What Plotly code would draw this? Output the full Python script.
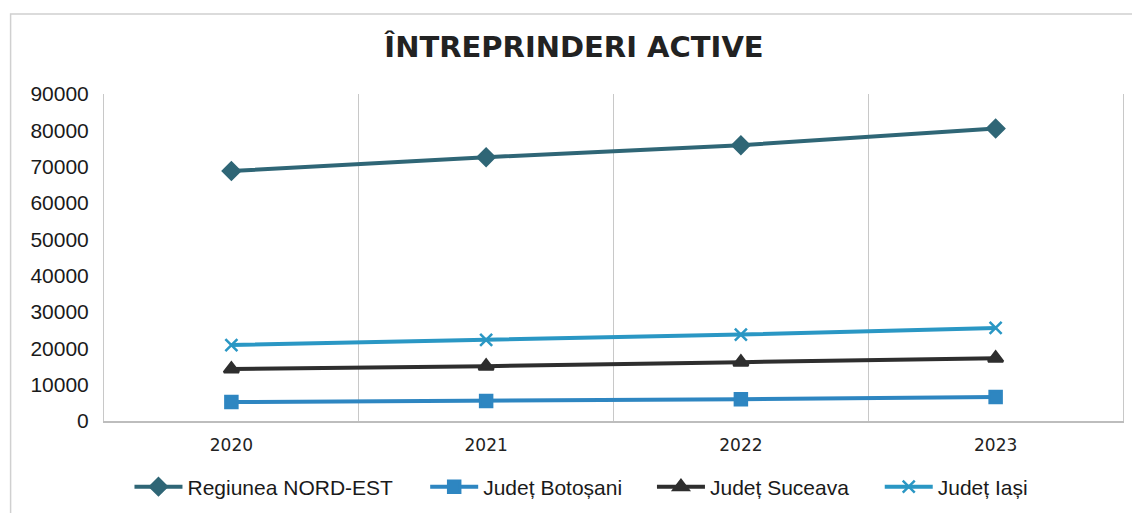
import plotly.graph_objects as go

years = ["2020", "2021", "2022", "2023"]
nord_est = [68800, 72600, 75900, 80500]
botosani = [5200, 5500, 6000, 6600]
suceava = [14300, 15100, 16200, 17300]
iasi = [20900, 22300, 23800, 25600]
y_ticks = [0, 10000, 20000, 30000, 40000, 50000, 60000, 70000, 80000, 90000]

series = [
    ("Regiunea NORD-EST", nord_est, "#2F6676", "diamond", 13, "legend"),
    ("Județ Botoșani", botosani, "#2E86C1", "square", 12, "legend2"),
    ("Județ Suceava", suceava, "#2E2E2E", "triangle-up", 13, "legend3"),
    ("Județ Iași", iasi, "#2A97C4", "x-thin-open", 12, "legend4"),
]

# page layout (browser body margin of 8px is accounted for)
PLOT_L, PLOT_W, PLOT_B, PLOT_H = 103.5, 1020.0, 421.0, 327.0

def px_x(p):
    return (p - PLOT_L) / PLOT_W

def px_y(p):
    return (PLOT_B - p) / PLOT_H

fig = go.Figure()
for name, vals, color, sym, size, lg in series:
    fig.add_trace(go.Scatter(
        x=years, y=vals, name=name, mode="lines+markers", legend=lg,
        line=dict(color=color, width=4),
        marker=dict(symbol=sym, size=size, color=color,
                    line=dict(color=color, width=2.5)),
    ))

legend_x_px = [129, 425, 652, 880]
legend_common = dict(orientation="h", xanchor="left", y=px_y(487), yanchor="middle",
                     font=dict(size=21), itemwidth=48, bgcolor="rgba(0,0,0,0)")

fig.update_layout(
    width=1132, height=505,
    paper_bgcolor="white", plot_bgcolor="white",
    margin=dict(l=95.5, r=16.5, t=86, b=92, autoexpand=False),
    font=dict(family="Liberation Sans, Arial, sans-serif", color="#1a1a1a", size=19),
    title=dict(text="<b>ÎNTREPRINDERI ACTIVE</b>", x=0.5, xanchor="center",
               y=1 - 39 / 505, yref="container", yanchor="middle",
               font=dict(family="DejaVu Sans, sans-serif", size=29, color="#222222")),
    showlegend=True,
    legend=dict(x=px_x(legend_x_px[0]), **legend_common),
    legend2=dict(x=px_x(legend_x_px[1]), **legend_common),
    legend3=dict(x=px_x(legend_x_px[2]), **legend_common),
    legend4=dict(x=px_x(legend_x_px[3]), **legend_common),
    xaxis=dict(
        type="category", range=[-0.5, 3.5], tickson="boundaries", automargin=False,
        showgrid=True, gridcolor="#c8c8c8", gridwidth=1,
        showline=True, linecolor="#bdbdbd", linewidth=1.5,
        ticks="", ticklabelstandoff=8,
        tickfont=dict(family="DejaVu Sans, sans-serif", size=17, color="#222222"),
    ),
    yaxis=dict(
        range=[0, 90000], tickvals=y_ticks, ticktext=[str(v) for v in y_ticks],
        showgrid=False, zeroline=False, automargin=False,
        showline=True, linecolor="#c8c8c8", linewidth=1, mirror=True,
        ticks="", ticklabelstandoff=10,
        tickfont=dict(size=21, color="#1a1a1a"),
    ),
)

fig.add_shape(type="rect", xref="paper", yref="paper",
              x0=px_x(10), x1=px_x(1135), y0=-0.4, y1=px_y(14),
              line=dict(color="#d0d0d0", width=1.5), layer="below")

fig.write_html("out.html")
